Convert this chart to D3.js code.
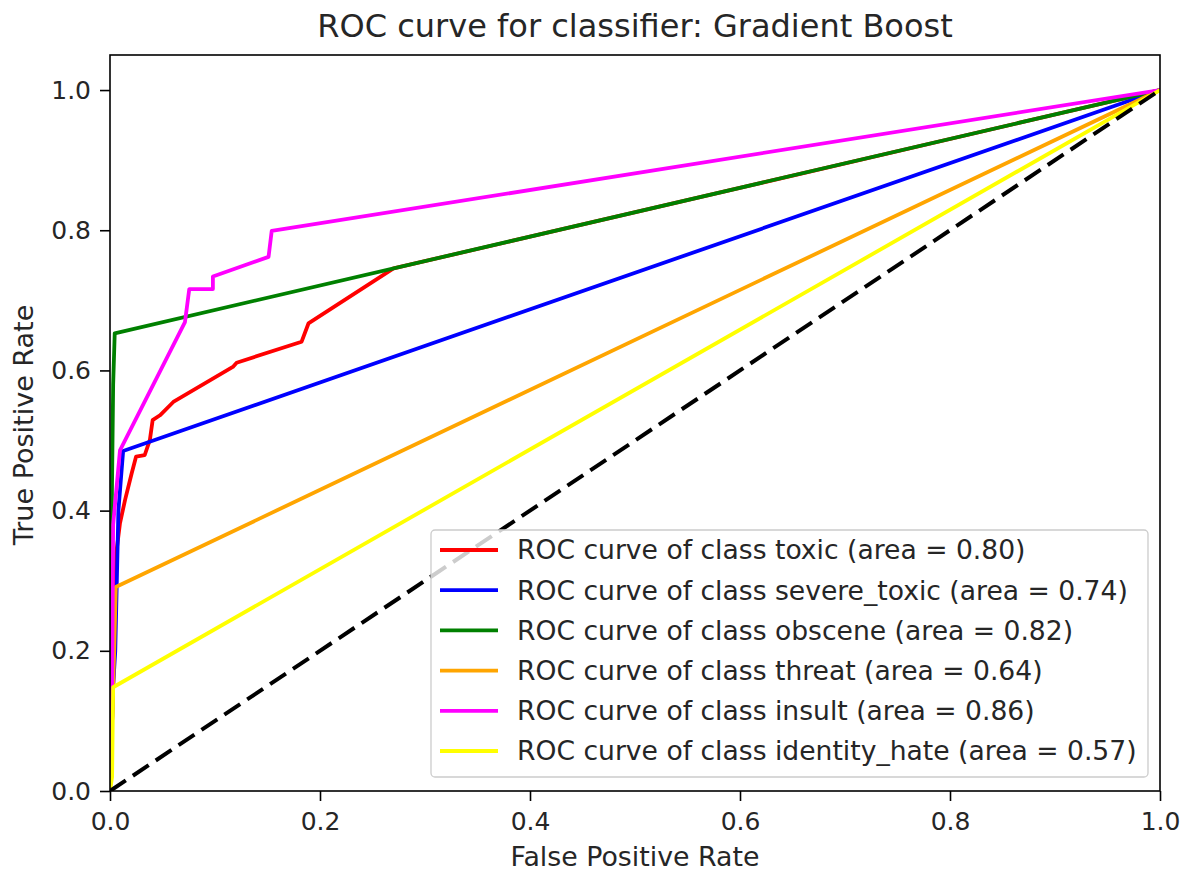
<!DOCTYPE html>
<html>
<head>
<meta charset="utf-8">
<script src="https://d3js.org/d3.v7.min.js"></script>
<style>
  html, body { margin: 0; padding: 0; background: #fff; }
  text { font-family: "DejaVu Sans", sans-serif; fill: #262626; }
</style>
</head>
<body>
<svg id="chart" width="1191" height="872"></svg>
<script>
// ---- data ----
const classNames = ["toxic", "severe_toxic", "obscene", "threat", "insult", "identity_hate"];
const areas = ["0.80", "0.74", "0.82", "0.64", "0.86", "0.57"];
const colors = ["#ff0000", "#0000ff", "#008000", "#ffa500", "#ff00ff", "#ffff00"];

const toxicFPR = [0, 0.004, 0.006, 0.0095, 0.0143, 0.0206, 0.0248, 0.033, 0.038, 0.0406, 0.0476, 0.0603, 0.117, 0.1206, 0.1825, 0.189, 0.27, 1];
const toxicTPR = [0, 0.2, 0.34, 0.382, 0.415, 0.453, 0.477, 0.479, 0.501, 0.529, 0.536, 0.555, 0.605, 0.611, 0.641, 0.667, 0.7455, 1];

const severeFPR = [0, 0.003, 0.005, 0.008, 0.0125, 1];
const severeTPR = [0, 0.15, 0.2, 0.4, 0.485, 1];

const obsceneFPR = [0, 0.0015, 0.003, 0.0045, 1];
const obsceneTPR = [0, 0.38, 0.58, 0.653, 1];

const threatFPR = [0, 0.004, 0.0055, 1];
const threatTPR = [0, 0.2, 0.291, 1];

const insultFPR = [0, 0.002, 0.003, 0.0095, 0.0714, 0.0755, 0.098, 0.098, 0.151, 0.154, 1];
const insultTPR = [0, 0.15, 0.38, 0.486, 0.669, 0.716, 0.716, 0.734, 0.762, 0.799, 1];

const identityFPR = [0, 0.002, 0.003, 1];
const identityTPR = [0, 0.02, 0.148, 1];

const chanceFPR = [0, 1];
const chanceTPR = [0, 1];

const xTicks = [0, 0.2, 0.4, 0.6, 0.8, 1.0];
const yTicks = [0, 0.2, 0.4, 0.6, 0.8, 1.0];

const titleText = "ROC curve for classifier: Gradient Boost";
const xLabel = "False Positive Rate";
const yLabel = "True Positive Rate";

// ---- drawing ----
const series = [
  [toxicFPR, toxicTPR], [severeFPR, severeTPR], [obsceneFPR, obsceneTPR],
  [threatFPR, threatTPR], [insultFPR, insultTPR], [identityFPR, identityTPR]
];

const svg = d3.select("#chart");
const x = d3.scaleLinear().domain([0, 1]).range([110, 1160]);
const y = d3.scaleLinear().domain([0, 1.05]).range([791, 55]);

svg.append("defs").append("clipPath").attr("id", "clip")
  .append("rect")
  .attr("x", x(0)).attr("y", y(1.05))
  .attr("width", x(1) - x(0)).attr("height", y(0) - y(1.05));

const line = d3.line().x(d => x(d[0])).y(d => y(d[1]));
const plot = svg.append("g").attr("clip-path", "url(#clip)");

series.forEach((s, i) => {
  const pts = s[0].map((v, j) => [v, s[1][j]]);
  plot.append("path")
    .attr("d", line(pts))
    .attr("fill", "none")
    .attr("stroke", colors[i])
    .attr("stroke-width", 3.8)
    .attr("stroke-linejoin", "round")
    .attr("stroke-linecap", "butt");
});

plot.append("path")
  .attr("d", line(chanceFPR.map((v, j) => [v, chanceTPR[j]])))
  .attr("fill", "none")
  .attr("stroke", "#000")
  .attr("stroke-width", 4)
  .attr("stroke-dasharray", "19,8.5");

// axes
const xAxis = d3.axisBottom(x).tickValues(xTicks).tickFormat(d3.format(".1f")).tickSize(10).tickPadding(11);
const yAxis = d3.axisLeft(y).tickValues(yTicks).tickFormat(d3.format(".1f")).tickSize(10).tickPadding(9);

const gx = svg.append("g").attr("transform", `translate(0,${y(0)})`).call(xAxis);
const gy = svg.append("g").attr("transform", `translate(${x(0)},0)`).call(yAxis);
[gx, gy].forEach(g => {
  g.select(".domain").remove();
  g.selectAll(".tick line").attr("stroke", "#000").attr("stroke-width", 1.6);
  g.selectAll(".tick text").attr("font-size", 25).attr("fill", "#262626")
    .style("font-family", "'DejaVu Sans', sans-serif");
});

// frame
svg.append("rect")
  .attr("x", x(0)).attr("y", y(1.05))
  .attr("width", x(1) - x(0)).attr("height", y(0) - y(1.05))
  .attr("fill", "none").attr("stroke", "#000").attr("stroke-width", 1.6);

// title and labels
svg.append("text").attr("x", (x(0) + x(1)) / 2).attr("y", 37)
  .attr("text-anchor", "middle").attr("font-size", 32).text(titleText);
svg.append("text").attr("x", (x(0) + x(1)) / 2).attr("y", 866)
  .attr("text-anchor", "middle").attr("font-size", 26.8).text(xLabel);
svg.append("text").attr("transform", `translate(33,${(y(0) + y(1.05)) / 2 + 2}) rotate(-90)`)
  .attr("text-anchor", "middle").attr("font-size", 27).text(yLabel);

// legend
const lg = svg.append("g");
lg.append("rect")
  .attr("x", 431).attr("y", 530).attr("width", 717).attr("height", 247)
  .attr("rx", 4).attr("ry", 4)
  .attr("fill", "#fff").attr("fill-opacity", 0.8)
  .attr("stroke", "#cccccc").attr("stroke-width", 1.3);
classNames.forEach((c, i) => {
  const yy = 550 + i * 40.2;
  lg.append("line").attr("x1", 440).attr("x2", 498).attr("y1", yy).attr("y2", yy)
    .attr("stroke", colors[i]).attr("stroke-width", 3.8);
  lg.append("text").attr("x", 517).attr("y", yy).attr("dy", "0.35em")
    .attr("font-size", 26.6)
    .text(`ROC curve of class ${c} (area = ${areas[i]})`);
});
</script>
</body>
</html>
